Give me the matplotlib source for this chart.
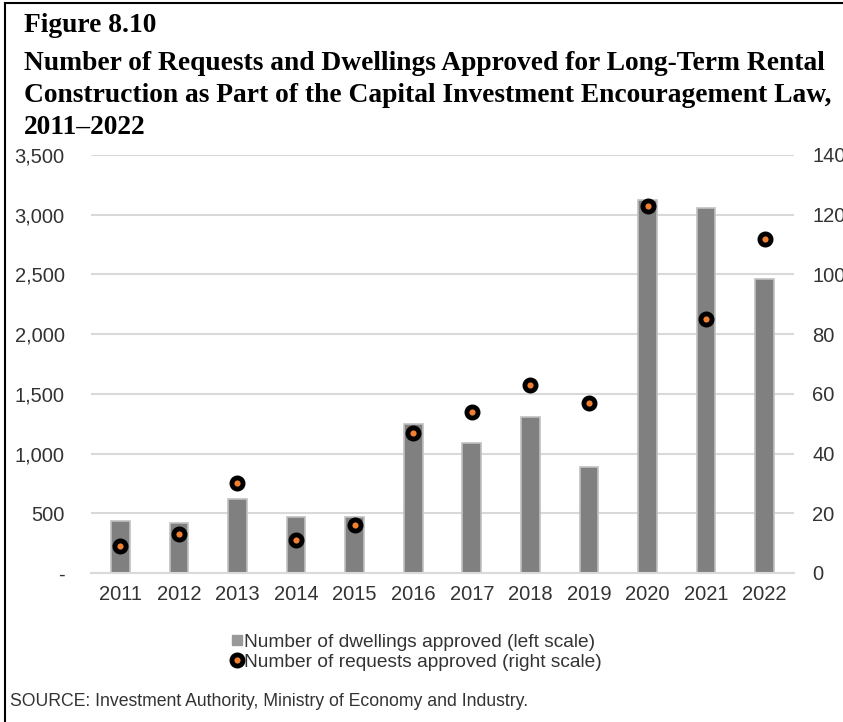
import matplotlib
matplotlib.use("Agg")
import matplotlib.pyplot as plt
from matplotlib.lines import Line2D
import numpy as np

years = ["2011", "2012", "2013", "2014", "2015", "2016", "2017", "2018", "2019", "2020", "2021", "2022"]
dwellings = [435, 421, 617, 472, 466, 1248, 1086, 1303, 884, 3124, 3054, 2465]
requests = [9, 13, 30, 11, 16, 47, 54, 63, 57, 123, 85, 112]
left_ticks = [0, 500, 1000, 1500, 2000, 2500, 3000, 3500]
left_labels = ["-", "500", "1,000", "1,500", "2,000", "2,500", "3,000", "3,500"]
right_ticks = [0, 20, 40, 60, 80, 100, 120, 140]

title_lines = ["Figure 8.10",
               "Number of Requests and Dwellings Approved for Long-Term Rental",
               "Construction as Part of the Capital Investment Encouragement Law,",
               "2011\u20132022"]
legend_labels = ["Number of dwellings approved (left scale)",
                 "Number of requests approved (right scale)"]
source = "SOURCE: Investment Authority, Ministry of Economy and Industry."

W, H = 843, 722
fig = plt.figure(figsize=(W / 100, H / 100), dpi=100)
fig.patch.set_facecolor("white")

ax = fig.add_axes([91 / W, 1 - 573 / H, (794 - 91) / W, (573 - 155) / H])
x = np.arange(len(years))
ax.bar(x, dwellings, width=0.32, color="#808080", edgecolor="#c0c0c0", linewidth=1.2, zorder=2)
ax.set_xlim(-0.5, len(years) - 0.5)
ax.set_ylim(0, 3500)
ax.set_yticks(left_ticks)
ax.set_yticklabels(left_labels)
ax.set_xticks(x)
ax.set_xticklabels(years)
ax.grid(axis="y", color="#d9d9d9", linewidth=1.5, zorder=0)
for s in ["top", "right", "left"]:
    ax.spines[s].set_visible(False)
ax.spines["bottom"].set_color("#d9d9d9")
ax.spines["bottom"].set_linewidth(1.5)
ax.tick_params(axis="both", length=0, labelsize=14.5, labelcolor="#333333",
               labelfontfamily="Liberation Sans")
ax.tick_params(axis="y", pad=19)
ax.tick_params(axis="x", pad=9)

ax2 = ax.twinx()
ax2.set_ylim(0, 140)
ax2.set_yticks(right_ticks)
ax2.plot(x, requests, linestyle="none", marker="o", markersize=8,
         markerfacecolor="#F08030", markeredgecolor="black", markeredgewidth=3.5, zorder=3)
for s in ax2.spines.values():
    s.set_visible(False)
ax2.tick_params(axis="y", length=0, labelsize=14.5, labelcolor="#333333", pad=13,
                labelfontfamily="Liberation Sans")

# title
ys_px = [26, 64, 96, 128]
for t, yy in zip(title_lines, ys_px):
    fig.text(24 / W, 1 - yy / H, t, fontsize=19.8, fontweight="bold", family="Liberation Serif",
             va="center", ha="left", color="black")

# legend
handles = [Line2D([0], [0], marker="s", linestyle="none", markersize=7,
                  markerfacecolor="#999999", markeredgecolor="#999999"),
           Line2D([0], [0], marker="o", linestyle="none", markersize=8,
                  markerfacecolor="#F08030", markeredgecolor="black", markeredgewidth=3.5)]
leg = fig.legend(handles, legend_labels, loc="center left", bbox_to_anchor=(214 / W, 1 - 652 / H),
                 frameon=False, handlelength=0.6, handletextpad=0.05, labelspacing=0.15,
                 prop={"family": "Liberation Sans", "size": 13.8})
for t in leg.get_texts():
    t.set_color("#333333")

fig.text(10 / W, 1 - 701 / H, source, fontsize=12.7, family="Liberation Sans",
         color="#333333", va="center", ha="left")

# frame lines (left & top)
fig.add_artist(Line2D([5 / W, 5 / W], [0, 1 - 3 / H], color="black", linewidth=1.5))
fig.add_artist(Line2D([5 / W, 1], [1 - 3 / H, 1 - 3 / H], color="black", linewidth=1.5))

fig.savefig("out.png", dpi=100)
